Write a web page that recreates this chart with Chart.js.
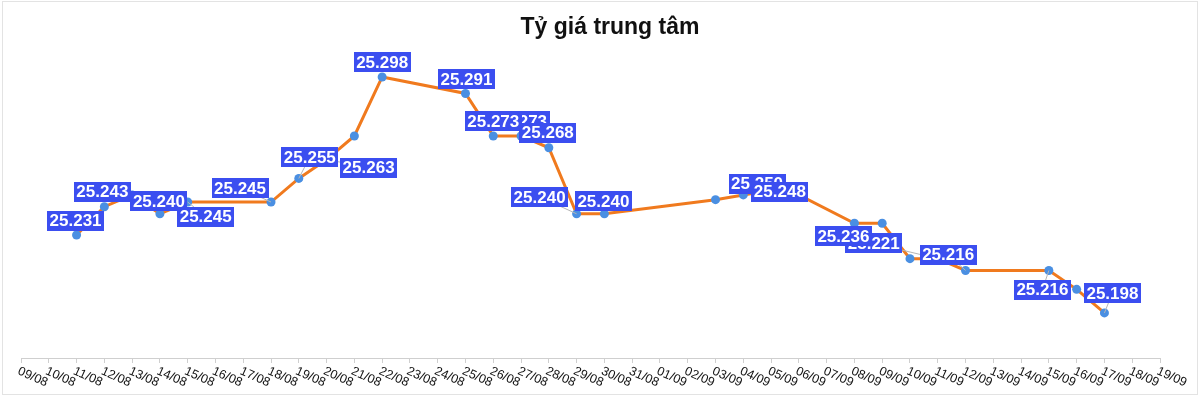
<!DOCTYPE html>
<html>
<head>
<meta charset="utf-8">
<script src="https://cdn.jsdelivr.net/npm/chart.js@4.4.1/dist/chart.umd.min.js"></script>
<style>
html,body{margin:0;padding:0;background:#fff;}
#wrap{position:relative;width:1200px;height:397px;}
</style>
</head>
<body>
<div id="wrap"><canvas id="c" width="1200" height="397"></canvas></div>
<script>
// ---- data ----
const dateLabels = ['09/08','10/08','11/08','12/08','13/08','14/08','15/08','16/08','17/08','18/08',
  '19/08','20/08','21/08','22/08','23/08','24/08','25/08','26/08','27/08','28/08',
  '29/08','30/08','31/08','01/09','02/09','03/09','04/09','05/09','06/09','07/09',
  '08/09','09/09','10/09','11/09','12/09','13/09','14/09','15/09','16/09','17/09',
  '18/09','19/09'];
const rateValues = [null,null,25.231,25.243,25.248,25.240,25.245,null,null,25.245,
  25.255,25.263,25.273,25.298,null,null,25.291,25.273,25.273,25.268,
  25.240,25.240,null,null,null,25.246,25.248,25.250,25.248,null,
  25.236,25.236,25.221,25.221,25.216,null,null,25.216,25.208,25.198,
  null,null];
const chartTitle = 'Tỷ giá trung tâm';

// ---- annotation layout (which point labels are shown, draw order, offsets) ----
const labelDrawOrder = [2,3,5,6,9,10,11,13,16,18,17,19,20,21,27,28,33,30,34,37,39];
const labelOffsets = {
  2:[-1,-14.5,0], 3:[-2,-15,0], 5:[-1,-13,0], 6:[18,14.5,1], 9:[-31,-14,1],
  10:[11,-21.5,1], 11:[42,8,1], 13:[0,-14.5,0], 16:[1,-14,0], 18:[0,-15,0],
  17:[0,-15,0], 19:[-1,-15,0], 20:[-37,-17,1], 21:[-1,-13,0], 27:[-14,-6.5,0],
  28:[-19,-3.3,0], 33:[-64,-15.3,1], 30:[-11,13,0], 34:[-17.4,-15.7,1],
  37:[-6.5,19.3,1], 39:[8,-20,1]
};

const LABEL_FONT = 'bold 17px "Liberation Sans", Arial, sans-serif';
const BOX_COLOR = '#3b4ef0';

function fmt(v){ return v.toFixed(3); }

const framePlugin = {
  id:'frame',
  beforeDraw(chart){
    const ctx = chart.ctx;
    ctx.save();
    ctx.fillStyle = '#fff';
    ctx.fillRect(0,0,chart.width,chart.height);
    ctx.strokeStyle = '#e3e3e3';
    ctx.lineWidth = 1;
    ctx.strokeRect(2.5,1.5,chart.width-5,chart.height-4);
    ctx.restore();
  }
};

const pointLabelPlugin = {
  id:'pointLabels',
  afterDatasetsDraw(chart){
    const ctx = chart.ctx;
    const meta = chart.getDatasetMeta(0);
    ctx.save();
    ctx.font = LABEL_FONT;
    ctx.strokeStyle = '#b5b5b5';
    ctx.lineWidth = 1;
    labelDrawOrder.forEach(i => {
      const o = labelOffsets[i];
      if (!o[2]) return;
      const p = meta.data[i];
      ctx.beginPath();
      ctx.moveTo(p.x, p.y);
      ctx.lineTo(p.x + o[0], p.y + o[1]);
      ctx.stroke();
    });
    labelDrawOrder.forEach(i => {
      const o = labelOffsets[i];
      const p = meta.data[i];
      const txt = fmt(chart.data.datasets[0].data[i]);
      const w = ctx.measureText(txt).width + 5;
      const h = 20;
      const cx = p.x + o[0], cy = p.y + o[1];
      ctx.fillStyle = BOX_COLOR;
      ctx.fillRect(Math.round(cx - w/2), Math.round(cy - h/2), Math.round(w), h);
      ctx.fillStyle = '#fff';
      ctx.textAlign = 'center';
      ctx.textBaseline = 'middle';
      ctx.fillText(txt, cx, cy + 1);
    });
    ctx.restore();
  }
};

const slantTickPlugin = {
  id:'slantTicks',
  afterDraw(chart){
    const ctx = chart.ctx;
    const xs = chart.scales.x;
    ctx.save();
    ctx.font = '12.5px "Liberation Sans", Arial, sans-serif';
    ctx.fillStyle = '#111';
    ctx.textAlign = 'left';
    ctx.textBaseline = 'top';
    chart.data.labels.forEach((lab, i) => {
      const x = xs.getPixelForTick(i);
      ctx.save();
      ctx.translate(x, xs.bottom + 2);
      ctx.rotate(24 * Math.PI / 180);
      ctx.fillText(lab, 0, 0);
      ctx.restore();
    });
    ctx.restore();
  }
};

new Chart(document.getElementById('c'), {
  type:'line',
  data:{
    labels: dateLabels,
    datasets:[{
      data: rateValues,
      borderColor:'#f07a1e',
      borderWidth:3,
      backgroundColor:'#4a8fe2',
      pointBackgroundColor:'#4a8fe2',
      pointBorderWidth:0,
      pointRadius:4.5,
      tension:0,
      spanGaps:true,
      fill:false
    }]
  },
  options:{
    responsive:false,
    devicePixelRatio:1,
    animation:false,
    layout:{padding:{left:21,right:1,top:0,bottom:34}},
    plugins:{
      legend:{display:false},
      tooltip:{enabled:false},
      title:{
        display:true,
        text: chartTitle,
        color:'#111',
        font:{size:23,weight:'bold',family:'"Liberation Sans", Arial, sans-serif',lineHeight:1.2},
        padding:{top:14,bottom:6.8}
      }
    },
    scales:{
      x:{
        type:'category',
        offset:false,
        grid:{display:true,drawOnChartArea:false,drawTicks:true,tickLength:5,color:'#cfcfcf'},
        border:{display:true,color:'#cfcfcf',width:1},
        ticks:{display:false,autoSkip:false}
      },
      y:{
        display:true,
        position:'right',
        min:25.1789,
        max:25.3101,
        grid:{display:false},
        border:{display:false},
        ticks:{display:false},
        afterFit(s){ s.width = 39; }
      }
    }
  },
  plugins:[framePlugin, pointLabelPlugin, slantTickPlugin]
});
</script>
</body>
</html>
